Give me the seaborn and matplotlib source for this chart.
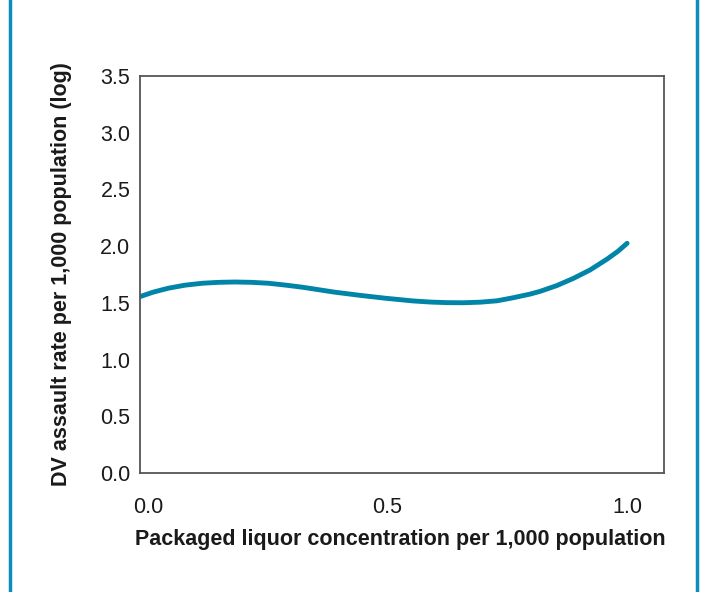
import numpy as np
import pandas as pd
import matplotlib
matplotlib.use("Agg")
import matplotlib.pyplot as plt
from matplotlib.lines import Line2D
import seaborn as sns

# ── Data ─────────────────────────────────────────────────────────────────────
liquor = [-0.017, 0.010, 0.042, 0.077, 0.113, 0.147, 0.182, 0.216, 0.251,
          0.286, 0.322, 0.356, 0.390, 0.443, 0.495, 0.553, 0.590, 0.624,
          0.658, 0.693, 0.728, 0.762, 0.797, 0.818, 0.853, 0.888, 0.923,
          0.958, 0.981, 1.000]
dv_rate = [1.555, 1.594, 1.629, 1.656, 1.673, 1.681, 1.684, 1.681, 1.673,
           1.657, 1.638, 1.616, 1.594, 1.566, 1.541, 1.517, 1.507, 1.502,
           1.501, 1.506, 1.518, 1.545, 1.577, 1.601, 1.652, 1.716, 1.791,
           1.885, 1.955, 2.025]
x_ticks = [0.0, 0.5, 1.0]
y_ticks = [0.0, 0.5, 1.0, 1.5, 2.0, 2.5, 3.0, 3.5]

df = pd.DataFrame({"liquor": liquor, "dv": dv_rate})

sns.set_theme(style="white")
plt.rcParams["font.family"] = ["Liberation Sans", "DejaVu Sans"]

LINE = "#0085A8"
BORDER = "#0A8DB8"
TEXT = "#1a1a1a"

fig = plt.figure(figsize=(7.05, 5.92), dpi=100)
ax = fig.add_axes([0.1986, 0.2010, 0.7432, 0.6706])

sns.lineplot(data=df, x="liquor", y="dv", ax=ax, color=LINE, linewidth=3.5,
             solid_capstyle="round", solid_joinstyle="round")

ax.set_xlim(-0.017, 1.077)
ax.set_ylim(0, 3.5)
ax.set_xticks(x_ticks)
ax.set_yticks(y_ticks)
ax.set_xticklabels([f"{v:.1f}" for v in x_ticks], fontsize=15.5, color=TEXT)
ax.set_yticklabels([f"{v:.1f}" for v in y_ticks], fontsize=15.5, color=TEXT)
ax.tick_params(axis="y", length=0, pad=7)
ax.tick_params(axis="x", length=0, pad=17)

for sp in ax.spines.values():
    sp.set_color("#555555")
    sp.set_linewidth(1.3)

ax.set_xlabel("Packaged liquor concentration per 1,000 population",
              fontsize=15.5, fontweight="bold", color=TEXT)
ax.set_ylabel("DV assault rate per 1,000 population (log)",
              fontsize=15.5, fontweight="bold", color=TEXT)
ax.yaxis.set_label_coords(-0.13, 0.5)
ax.xaxis.set_label_coords(0.496, -0.141)

# side frame lines of the figure
fig.add_artist(Line2D([10 / 705, 10 / 705], [0, 1], color=BORDER, linewidth=2.5,
                      transform=fig.transFigure))
fig.add_artist(Line2D([697 / 705, 697 / 705], [0, 1], color=BORDER, linewidth=2.5,
                      transform=fig.transFigure))

fig.savefig("out.png", dpi=100)
